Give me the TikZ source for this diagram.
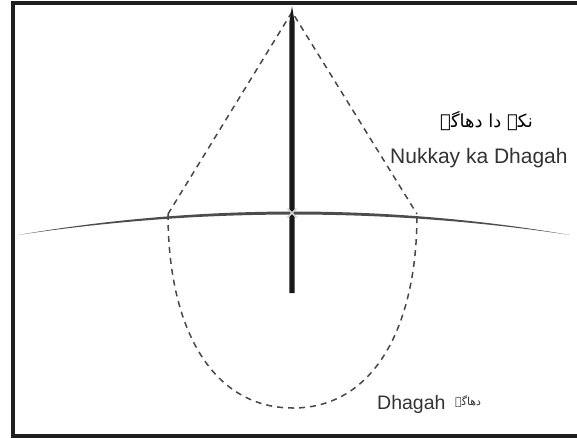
\documentclass[tikz,border=0pt]{standalone}
\usepackage{fontspec}
\setmainfont{Liberation Sans}
\newfontfamily\urdu[Script=Arabic]{DejaVu Sans}
\TeXXeTstate=1
\begin{document}
\begin{tikzpicture}[x=1pt,y=-1pt,
  frameline/.style={line width=4pt, black!88},
  dashline/.style={dashed, dash pattern=on 6pt off 5pt, line width=1.5pt, black!72},
  lbl/.style={inner sep=0pt, text=black!80}]
\useasboundingbox (0,0) rectangle (577,437);
\clip (0,0) rectangle (577,437);
\fill[white] (0,0) rectangle (577,437);
% frame
\coordinate (fTL) at (12.5,2.5);
\coordinate (fTR) at (580,2.5);
\coordinate (fBL) at (12.5,435.5);
\coordinate (fBR) at (580,435.5);
\draw[frameline] (fTR) -- (fTL) -- (fBL) -- (fBR);
% key points
\coordinate (apex) at (292,12);
\coordinate (L) at (168,214);
\coordinate (R) at (417,214);
\coordinate (bot) at (293,408);
\coordinate (c) at (292,213);
% dashed kite and loop
\draw[dashline] (L) -- (apex) -- (R);
\draw[dashline] (L) .. controls (168,330) and (213,408) .. (bot) .. controls (372,408) and (417,330) .. (R);
% rod
\coordinate (rodtop) at (292,6);
\coordinate (rodbot) at (292,293);
\fill[black!90] (rodtop) -- (294.6,22) -- (294.6,293) -- (289.4,293) -- (289.4,22) -- cycle;
% thread (tapered)
\fill[black!70] (18,235) .. controls (200,203.7) and (388,203.7) .. (570,235) .. controls (388,207.7) and (200,207.7) .. (18,235) -- cycle;
% centre mark
\draw[gray!35, line width=1.6pt] (287.5,208.5) -- (296.5,217.5) (287.5,217.5) -- (296.5,208.5);
% labels
\node[lbl, anchor=base east, font=\urdu\fontsize{18}{20}\selectfont, text=black] (ur1) at (533,127) {\beginR نکے دا دھاگہ\endR};
\node[lbl, anchor=base west, font=\fontsize{21}{24}\selectfont] (nk) at (390,163) {Nukkay ka Dhagah};
\node[lbl, anchor=base west, font=\fontsize{19.5}{22}\selectfont] (dh) at (377,409) {Dhagah};
\node[lbl, anchor=base west, font=\urdu\fontsize{11}{13}\selectfont] (ur2) at (455,405) {\beginR دھاگہ\endR};
\end{tikzpicture}
\end{document}
